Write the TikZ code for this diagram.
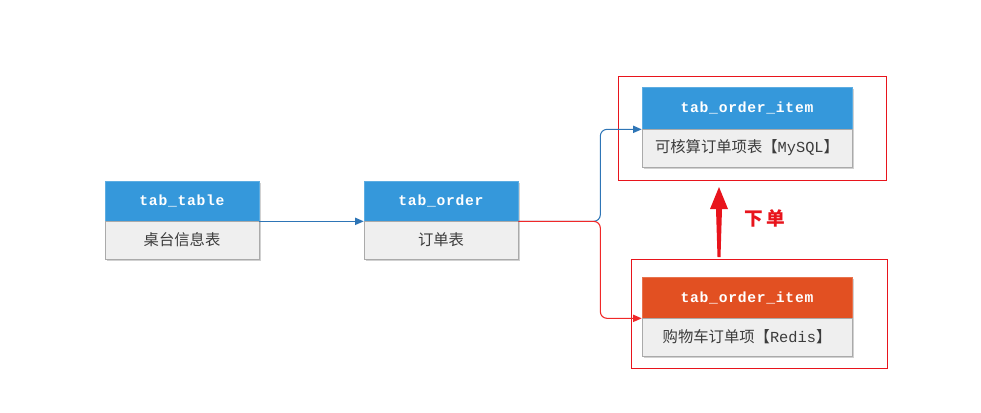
\documentclass[tikz,border=0pt]{standalone}
\usepackage{fontspec}
\setmainfont{Liberation Sans}
\newfontfamily\cjk{Noto Sans CJK SC}
\newfontfamily\hdmono{Liberation Mono}[LetterSpace=5]
\newfontfamily\bdmono{Liberation Mono}
\usetikzlibrary{arrows.meta,calc}
\definecolor{hdblue}{RGB}{53,152,219}
\definecolor{hdorange}{RGB}{226,80,34}
\definecolor{bodyfill}{RGB}{239,239,239}
\definecolor{bodyline}{RGB}{170,170,170}
\definecolor{lnblue}{RGB}{46,117,182}
\definecolor{lnred}{RGB}{240,40,40}
\definecolor{framered}{RGB}{232,20,28}
\definecolor{txtgrey}{RGB}{60,60,60}
\tikzset{
  hdr/.style={draw=#1!80!white, fill=#1, text=white, font=\hdmono\bfseries\fontsize{11}{13}\selectfont, inner sep=0pt, line width=0.5pt},
  bdy/.style={draw=bodyline, fill=bodyfill, text=txtgrey, font=\cjk\fontsize{11.5}{13}\selectfont, inner sep=0pt, line width=0.6pt},
  shd/.style={fill=black!18},
  frm/.style={draw=framered, line width=0.6pt, inner sep=0pt},
  conn/.style={line width=0.8pt, rounded corners=5pt},
}
\begin{document}
\begin{tikzpicture}[x=0.75pt,y=-0.75pt]
\useasboundingbox (0,0) rectangle (981,412);
% shadows
\fill[shd] (107,183) rectangle (261,261);
\fill[shd] (366,183) rectangle (520,261);
\fill[shd] (644,89) rectangle (854,169);
\fill[shd] (644,279) rectangle (854,358);
% tab_table
\node[hdr=hdblue, minimum width=115.5pt, minimum height=30pt] (tth) at (182,201) {tab\_table};
\node[bdy, minimum width=115.5pt, minimum height=28.5pt] (ttb) at (182,240) {桌台信息表};
% tab_order
\node[hdr=hdblue, minimum width=115.5pt, minimum height=30pt] (toh) at (441,201) {tab\_order};
\node[bdy, minimum width=115.5pt, minimum height=28.5pt] (tob) at (441,240) {订单表};
% top item
\node[hdr=hdblue, minimum width=157.5pt, minimum height=31.5pt] (ih1) at (747,108) {tab\_order\_item};
\node[bdy, minimum width=157.5pt, minimum height=28.5pt] (ib1) at (747,148) {可核算订单项表【{\bdmono MySQL}】};
% bottom item
\node[hdr=hdorange, minimum width=157.5pt, minimum height=30.75pt] (ih2) at (747,297.5) {tab\_order\_item};
\node[bdy, minimum width=157.5pt, minimum height=28.5pt] (ib2) at (747,337) {购物车订单项【{\bdmono Redis}】};
% frames
\node[frm, minimum width=201pt, minimum height=78pt] (f1) at (752,128) {};
\node[frm, minimum width=192pt, minimum height=81.75pt] (f2) at (759,313.5) {};
% connectors
\draw[conn, draw=lnblue, -{Triangle[length=6.5pt,width=5.5pt,fill=lnblue]}] (tth.south east) -- (toh.south west);
\draw[conn, draw=lnblue, -{Triangle[length=6.5pt,width=5.5pt,fill=lnblue]}] (toh.south east) -- ++(82,0) |- (ih1.south west);
\draw[conn, draw=lnred, -{Triangle[length=6.5pt,width=5.5pt,fill=lnred]}] (toh.south east) -- ++(82,0) |- (ih2.south west);
% big arrow
\coordinate (ab) at (719,257);
\coordinate (at) at (719,187);
\fill[framered] ($(ab)+(-1.5,0)$) -- (716,209) -- (710,209) -- (at) -- (728,209) -- (722,209) -- ($(ab)+(1.5,0)$) -- cycle;
\node[text=framered, font=\cjk\bfseries\fontsize{14}{16}\selectfont, anchor=center] (lbl) at (765,218) {下\,单};
\end{tikzpicture}
\end{document}
